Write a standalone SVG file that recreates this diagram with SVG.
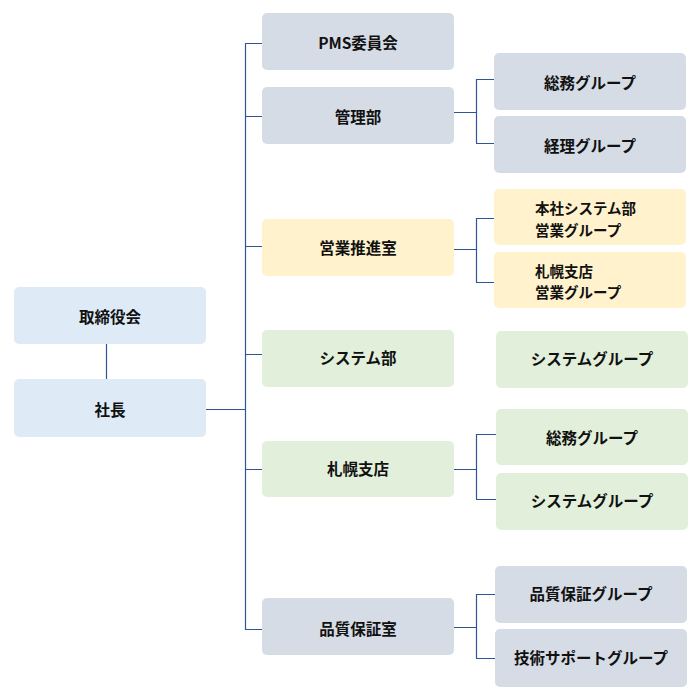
<svg xmlns="http://www.w3.org/2000/svg" width="700" height="700" viewBox="0 0 700 700">
<style>
.b{fill:#D6DCE5}
.l{fill:#DEEBF7}
.y{fill:#FFF2CC}
.g{fill:#E2EFDA}
text{font-family:"Noto Sans CJK JP","Noto Sans",sans-serif;font-size:15.5px;font-weight:600;fill:#111;text-anchor:middle;dominant-baseline:central}
text.s{text-anchor:start;font-size:14.5px}
.c path{fill:none;stroke:#2F5597;stroke-width:1.2}
</style>
<rect width="700" height="700" fill="#fff"/>
<g class="c" id="connectors">
<path d="M106.5 344V379"/>
<path d="M206 409.5H245"/>
<path d="M245.5 43V629.5H262"/>
<path d="M245 43.5H262M245 116.5H262M245 246.5H262M245 354.5H262M245 469.5H262"/>
<path d="M454 112.5H476M476.5 79V143M476 79.5H494M476 143.5H494"/>
<path d="M454 249.5H476M476.5 218V282M476 218.5H494M476 282.5H494"/>
<path d="M454 469.5H476M476.5 434V499M476 434.5H496M476 499.5H496"/>
<path d="M454 627.5H476M476.5 594V658M476 594.5H495M476 658.5H495"/>
</g>
<g id="n1"><rect class="l" x="14" y="287" width="192" height="57" rx="5"/><text x="110" y="316">取締役会</text></g>
<g id="n2"><rect class="l" x="14" y="379" width="192" height="58" rx="5"/><text x="110" y="409">社長</text></g>
<g id="n3"><rect class="b" x="262" y="13" width="192" height="57" rx="5"/><text x="358" y="42">PMS委員会</text></g>
<g id="n4"><rect class="b" x="262" y="87" width="192" height="57" rx="5"/><text x="358" y="116">管理部</text></g>
<g id="n5"><rect class="y" x="262" y="219" width="192" height="57" rx="5"/><text x="358" y="247">営業推進室</text></g>
<g id="n6"><rect class="g" x="262" y="330" width="192" height="57" rx="5"/><text x="358" y="357">システム部</text></g>
<g id="n7"><rect class="g" x="262" y="441" width="192" height="56" rx="5"/><text x="358" y="468">札幌支店</text></g>
<g id="n8"><rect class="b" x="262" y="598" width="192" height="57" rx="5"/><text x="358" y="628">品質保証室</text></g>
<g id="n9"><rect class="b" x="494" y="53" width="192" height="57" rx="5"/><text x="590" y="82">総務グループ</text></g>
<g id="n10"><rect class="b" x="494" y="116" width="192" height="57" rx="5"/><text x="590" y="145">経理グループ</text></g>
<g id="n11"><rect class="y" x="494" y="189" width="192" height="56" rx="5"/><text class="s" x="535" y="207"><tspan x="535">本社システム部</tspan><tspan x="535" dy="21.5">営業グループ</tspan></text></g>
<g id="n12"><rect class="y" x="494" y="252" width="192" height="56" rx="5"/><text class="s" x="535" y="269.5"><tspan x="535">札幌支店</tspan><tspan x="535" dy="21.5">営業グループ</tspan></text></g>
<g id="n13"><rect class="g" x="496" y="331" width="192" height="57" rx="5"/><text x="592" y="358">システムグループ</text></g>
<g id="n14"><rect class="g" x="496" y="409" width="192" height="56" rx="5"/><text x="592" y="437">総務グループ</text></g>
<g id="n15"><rect class="g" x="496" y="473" width="192" height="57" rx="5"/><text x="592" y="500">システムグループ</text></g>
<g id="n16"><rect class="b" x="495" y="566" width="192" height="57" rx="5"/><text x="591" y="593">品質保証グループ</text></g>
<g id="n17"><rect class="b" x="495" y="629" width="192" height="58" rx="5"/><text x="591" y="657">技術サポートグループ</text></g>
</svg>
